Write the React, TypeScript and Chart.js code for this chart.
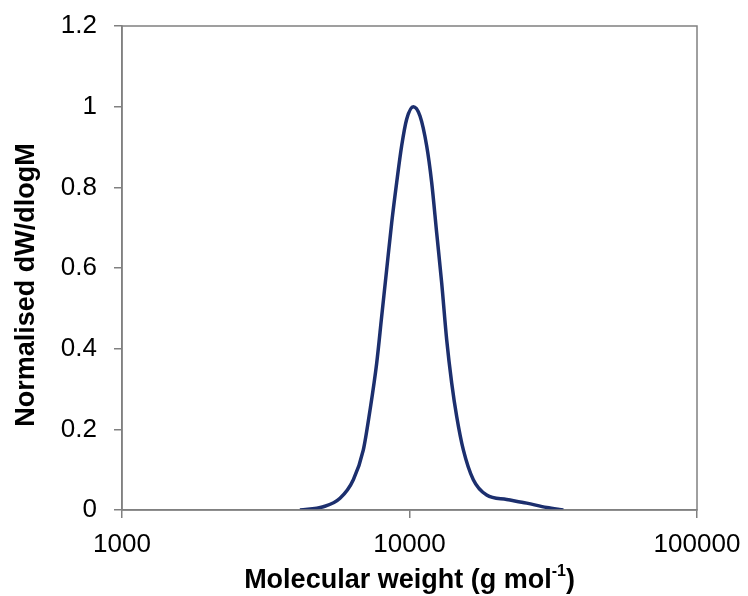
import React, { useEffect, useRef } from "react";
import { Chart, registerables } from "chart.js";

Chart.register(...registerables);

const molWeight = [4159, 5015, 5732, 6377, 6909, 7290, 7689, 8003, 8329, 8670, 9024, 9392, 9775, 10311, 10877, 11473, 11944, 12432, 12940, 13469, 14020, 14593, 15392, 16672, 18548, 21778, 25564, 30005, 34290];
const dwdlogM = [0.0, 0.008, 0.029, 0.075, 0.149, 0.248, 0.364, 0.48, 0.596, 0.712, 0.812, 0.903, 0.969, 1.0, 0.977, 0.903, 0.812, 0.687, 0.563, 0.422, 0.315, 0.232, 0.149, 0.075, 0.037, 0.026, 0.017, 0.006, 0.0];
const xTicks = [1000, 10000, 100000];
const yTitle = "Normalised dW/dlogM";
const xTitleMain = "Molecular weight (g mol";
const xTitleSup = "-1";
const xTitleEnd = ")";

const FONT = "'Liberation Sans', Arial, sans-serif";
const AXIS_COLOR = "#808080";

export default function App() {
  const ref = useRef<HTMLCanvasElement | null>(null);

  useEffect(() => {
    if (!ref.current) return;
    const borderPlugin = {
      id: "plotBorder",
      afterDraw(chart: any) {
        const { ctx, chartArea } = chart;
        ctx.save();
        ctx.strokeStyle = AXIS_COLOR;
        ctx.lineWidth = 1.5;
        ctx.strokeRect(chartArea.left, chartArea.top, chartArea.right - chartArea.left, chartArea.bottom - chartArea.top);
        ctx.fillStyle = "#000";
        ctx.textBaseline = "middle";
        // x-axis title with superscript
        ctx.textAlign = "left";
        const mainFont = `bold 27px ${FONT}`;
        const supFont = `bold 16px ${FONT}`;
        ctx.font = mainFont;
        const w1 = ctx.measureText(xTitleMain).width;
        const w3 = ctx.measureText(xTitleEnd).width;
        ctx.font = supFont;
        const w2 = ctx.measureText(xTitleSup).width;
        const total = w1 + w2 + w3;
        const cx = (chartArea.left + chartArea.right) / 2;
        const y = 581;
        let x = cx - total / 2;
        ctx.font = mainFont;
        ctx.fillText(xTitleMain, x, y);
        x += w1;
        ctx.font = supFont;
        ctx.fillText(xTitleSup, x, y - 9);
        x += w2;
        ctx.font = mainFont;
        ctx.fillText(xTitleEnd, x, y);
        // y-axis title
        ctx.translate(27, 285);
        ctx.rotate(-Math.PI / 2);
        ctx.textAlign = "center";
        ctx.font = mainFont;
        ctx.fillText(yTitle, 0, 0);
        ctx.restore();
      },
    };

    const chart = new Chart(ref.current, {
      type: "line",
      data: {
        datasets: [
          {
            data: molWeight.map((m, i) => ({ x: m, y: dwdlogM[i] })),
            borderColor: "#1c2f6e",
            borderWidth: 3.5,
            pointRadius: 0,
            cubicInterpolationMode: "monotone",
            fill: false,
          },
        ],
      },
      options: {
        animation: false,
        responsive: true,
        maintainAspectRatio: false,
        layout: { padding: { top: 26, right: 51, left: 0, bottom: 0 } },
        plugins: { legend: { display: false }, tooltip: { enabled: false } },
        scales: {
          x: {
            type: "logarithmic",
            min: 1000,
            max: 100000,
            afterBuildTicks: (scale: any) => {
              scale.ticks = xTicks.map((v) => ({ value: v }));
            },
            afterFit: (scale: any) => {
              scale.height = 86;
              scale.paddingLeft = 0;
              scale.paddingRight = 0;
            },
            grid: { drawOnChartArea: false, drawTicks: true, tickLength: 8, color: AXIS_COLOR, lineWidth: 1.5 },
            border: { display: true, color: AXIS_COLOR, width: 1.5 },
            ticks: {
              autoSkip: false,
              maxRotation: 0,
              padding: 11,
              color: "#000",
              font: { family: FONT, size: 26 },
              callback: (v: any) => String(v),
            },
          },
          y: {
            min: 0,
            max: 1.2,
            afterFit: (scale: any) => {
              scale.width = 122;
              scale.paddingTop = 0;
              scale.paddingBottom = 0;
            },
            grid: { drawOnChartArea: false, drawTicks: true, tickLength: 8, color: AXIS_COLOR, lineWidth: 1.5 },
            border: { display: true, color: AXIS_COLOR, width: 1.5 },
            ticks: {
              stepSize: 0.2,
              padding: 17,
              color: "#000",
              font: { family: FONT, size: 26 },
              callback: (v: any) => String(Math.round(Number(v) * 10) / 10),
            },
          },
        },
      },
      plugins: [borderPlugin],
    });
    return () => chart.destroy();
  }, []);

  return (
    <div style={{ position: "absolute", left: 0, top: 0, width: 748, height: 596, background: "#fff" }}>
      <canvas ref={ref} />
    </div>
  );
}
